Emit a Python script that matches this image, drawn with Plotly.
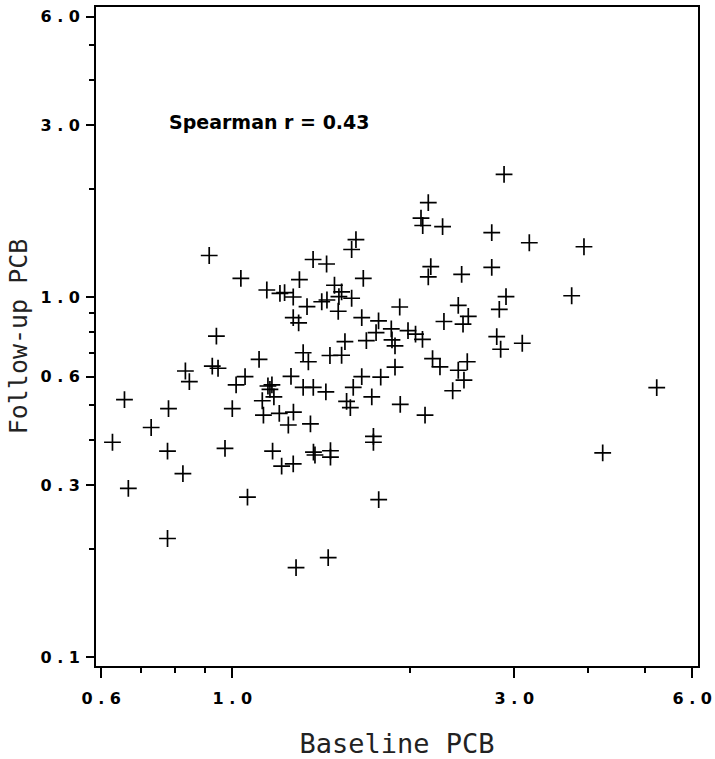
import plotly.graph_objects as go

baseline = [0.627, 0.657, 0.667, 0.729, 0.780, 0.777, 0.777, 0.825, 0.833, 0.846,
            0.914, 0.925, 0.946, 0.940, 0.972, 1.000, 1.015, 1.034, 1.051, 1.061,
            1.110, 1.124, 1.129, 1.149, 1.167, 1.158, 1.176, 1.144, 1.201, 1.170,
            1.204, 1.226, 1.212, 1.244, 1.257, 1.269, 1.268, 1.268, 1.268, 1.295,
            1.299, 1.282, 1.318, 1.318, 1.338, 1.345, 1.356, 1.370, 1.371, 1.372,
            1.380, 1.417, 1.446, 1.444, 1.440, 1.453, 1.463, 1.466, 1.466, 1.489,
            1.515, 1.531, 1.511, 1.531, 1.551, 1.561, 1.584, 1.592, 1.592, 1.619,
            1.602, 1.656, 1.656, 1.666, 1.686, 1.722, 1.733, 1.733, 1.751, 1.768,
            1.769, 1.783, 1.858, 1.863, 1.885, 1.885, 1.920, 1.924, 1.983, 2.042,
            2.098, 2.119, 2.086, 2.100, 2.146, 2.269, 2.167, 2.146, 2.182, 2.246,
            2.281, 2.360, 2.412, 2.412, 2.444, 2.457, 2.508, 2.466, 2.498, 2.748,
            2.748, 2.802, 2.830, 2.845, 2.883, 2.905, 3.095, 3.181, 3.752, 3.936,
            4.234, 5.226]

followup = [0.395, 0.519, 0.294, 0.434, 0.490, 0.373, 0.2134, 0.323, 0.623, 0.582,
            1.304, 0.643, 0.634, 0.779, 0.380, 0.490, 0.570, 1.127, 0.601, 0.278,
            0.671, 0.515, 0.470, 0.566, 0.570, 0.554, 0.528, 1.046, 0.475, 0.373,
            1.024, 1.029, 0.339, 0.441, 0.602, 0.479, 0.344, 1.000, 0.876, 0.847,
            1.118, 0.1772, 0.700, 0.561, 0.940, 0.661, 0.444, 1.271, 0.561, 0.371,
            0.364, 0.970, 0.981, 1.235, 0.545, 0.1888, 0.688, 0.374, 0.359, 1.078,
            1.002, 1.033, 0.913, 0.689, 0.752, 0.513, 0.493, 0.992, 1.355, 1.443,
            0.561, 0.877, 0.601, 1.127, 0.757, 0.528, 0.410, 0.395, 0.796, 0.858,
            0.2735, 0.599, 0.816, 0.760, 0.732, 0.639, 0.938, 0.503, 0.807, 0.789,
            0.763, 0.470, 1.657, 1.580, 1.828, 1.568, 1.214, 1.137, 0.674, 0.640,
            0.855, 0.549, 0.948, 0.626, 1.156, 0.841, 0.884, 0.588, 0.661, 1.509,
            1.209, 0.776, 0.924, 0.716, 2.192, 1.002, 0.744, 1.415, 1.008, 1.379,
            0.369, 0.560]

x_major = [0.6, 1.0, 3.0, 6.0]
x_major_labels = ["0.6", "1.0", "3.0", "6.0"]
x_minor = [0.7, 0.8, 0.9, 2.0, 4.0, 5.0]
y_major = [0.1, 0.3, 0.6, 1.0, 3.0, 6.0]
y_major_labels = ["0.1", "0.3", "0.6", "1.0", "3.0", "6.0"]
y_minor = [0.2, 0.4, 0.5, 0.7, 0.8, 0.9, 2.0, 4.0, 5.0]

annotation_text = "Spearman r = 0.43"
x_title = "Baseline PCB"
y_title = "Follow-up PCB"


def spaced(s):
    return " ".join(list(s))


fig = go.Figure()
fig.add_trace(go.Scatter(
    x=baseline, y=followup, mode="markers",
    marker=dict(symbol="cross-thin", size=12, color="black",
                line=dict(color="black", width=1.7)),
    showlegend=False, hoverinfo="x+y",
))

tick_font = dict(family="DejaVu Sans, sans-serif", size=16, color="black", weight="bold")
title_font_x = dict(family="DejaVu Sans Mono, monospace", size=27, color="#222222")
title_font_y = dict(family="DejaVu Sans Mono, monospace", size=25, color="#222222")

fig.update_xaxes(
    type="log", range=[-0.2306, 0.788],
    tickmode="array", tickvals=x_major, ticktext=[spaced(t) for t in x_major_labels],
    ticks="outside", ticklen=10, tickwidth=1.5, tickcolor="black",
    minor=dict(tickmode="array", tickvals=x_minor, ticks="outside", ticklen=5,
               tickwidth=1.5, tickcolor="black", showgrid=False),
    showline=True, linecolor="black", linewidth=1.6, mirror=True,
    showgrid=False, zeroline=False,
    tickfont=tick_font, ticklabelstandoff=7,
    title=dict(text=x_title, font=title_font_x, standoff=27),
)
fig.update_yaxes(
    type="log", range=[-1.025, 0.8056],
    tickmode="array", tickvals=y_major, ticktext=[spaced(t) for t in y_major_labels],
    ticks="outside", ticklen=8, tickwidth=1.5, tickcolor="black",
    minor=dict(tickmode="array", tickvals=y_minor, ticks="outside", ticklen=5,
               tickwidth=1.5, tickcolor="black", showgrid=False),
    showline=True, linecolor="black", linewidth=1.6, mirror=True,
    showgrid=False, zeroline=False,
    tickfont=tick_font, ticklabelstandoff=3,
    title=dict(text=y_title, font=title_font_y, standoff=6),
)

fig.add_annotation(
    text=annotation_text, xref="paper", yref="paper",
    x=(167 - 96) / 602, y=(666 - 122) / 659,
    xanchor="left", yanchor="middle", showarrow=False,
    font=dict(family="DejaVu Sans, sans-serif", size=19, color="black", weight="bold"),
)

fig.update_layout(
    width=715, height=759,
    margin=dict(l=96, r=17, t=7, b=93, autoexpand=False),
    paper_bgcolor="white", plot_bgcolor="white",
)

fig.write_html("out.html")
